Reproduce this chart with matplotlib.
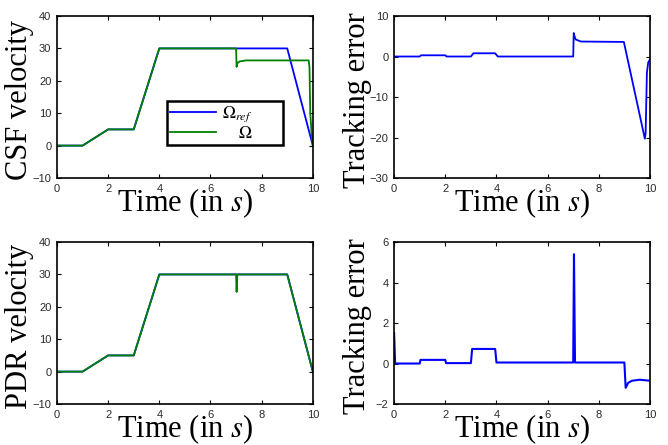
import matplotlib
matplotlib.use("Agg")
import matplotlib.pyplot as plt

plt.rcParams['mathtext.fontset'] = 'stix'
plt.rcParams['font.family'] = 'Liberation Sans'

# reference velocity (same for CSF and PDR)
t_ref = [0, 1, 2, 3, 4, 9, 10]
v_ref = [0, 0, 5, 5, 30, 30, 0]

# CSF actual velocity
t_csf = [0, 1, 2, 3, 4, 7.0, 7.02, 7.06, 7.15, 7.4, 9.84, 9.87, 9.9, 9.95, 10]
v_csf = [0, 0, 5, 5, 30, 30, 24.3, 25.6, 26.0, 26.3, 26.3, 24, 10, 4, 0]

# CSF tracking error
t_csf_err = [0, 1, 1.05, 2, 2.05, 3, 3.1, 3.95, 4.05, 7.0, 7.02, 7.05, 7.1, 7.3, 8.98,
             9.8, 9.83, 9.88, 9.93, 10]
e_csf = [0, 0, 0.3, 0.3, 0, 0, 0.8, 0.8, 0, 0, 5.8, 5.0, 4.2, 3.7, 3.6,
         -20.3, -19, -4, -1.5, -0.7]

# PDR actual velocity
t_pdr = [0, 1, 2, 3, 4, 7.0, 7.02, 7.05, 9, 10]
v_pdr = [0, 0, 5, 5, 30, 30, 24.6, 30, 30, 0]

# PDR tracking error
t_pdr_err = [0, 0.04, 1, 1.03, 2, 2.03, 3, 3.05, 3.95, 4.0, 7.0, 7.03, 7.07, 9.0,
             9.05, 9.15, 9.3, 9.6, 10]
e_pdr = [1.5, 0, 0, 0.18, 0.18, 0.02, 0.02, 0.72, 0.72, 0.05, 0.05, 5.4, 0.05, 0.05,
         -1.2, -0.95, -0.85, -0.8, -0.85]

blue = (0, 0, 1)
green = (0, 0.5, 0)

fig = plt.figure(figsize=(6.68, 4.45), dpi=100)
w, h = 0.383, 0.364
ax1 = fig.add_axes([0.0853, 0.600, w, h])
ax2 = fig.add_axes([0.590, 0.600, w, h])
ax3 = fig.add_axes([0.0853, 0.0921, w, h])
ax4 = fig.add_axes([0.590, 0.0921, w, h])

ax1.plot(t_ref, v_ref, color=blue, lw=1.3, label=r'$\Omega_{ref}$')
ax1.plot(t_csf, v_csf, color=green, lw=1.3, label=r'$\ \ \ \ \Omega$')
ax1.set_ylim(-10, 40)
ax1.set_ylabel('CSF velocity')
leg = ax1.legend(loc='lower left', bbox_to_anchor=(0.43, 0.205, 0.453, 0.27),
                 mode='expand', borderaxespad=0, fontsize=12.5, handlelength=2.6,
                 fancybox=False, framealpha=1, borderpad=0.2, labelspacing=0.05,
                 handletextpad=0.35)
leg.get_frame().set_edgecolor('black')
leg.get_frame().set_linewidth(1.8)

ax2.plot(t_csf_err, e_csf, color=blue, lw=1.3)
ax2.set_ylim(-30, 10)
ax2.set_yticks([-30, -20, -10, 0, 10])
ax2.set_ylabel('Tracking error')

ax3.plot(t_ref, v_ref, color=blue, lw=1.3)
ax3.plot(t_pdr, v_pdr, color=green, lw=1.3)
ax3.set_ylim(-10, 40)
ax3.set_ylabel('PDR velocity')

ax4.plot(t_pdr_err, e_pdr, color=blue, lw=1.5)
ax4.set_ylim(-2, 6)
ax4.set_yticks([-2, 0, 2, 4, 6])
ax4.set_ylabel('Tracking error')

for ax in [ax1, ax2, ax3, ax4]:
    ax.set_xlim(0, 10)
    ax.set_xticks([0, 2, 4, 6, 8, 10])
    ax.tick_params(direction='in', top=True, right=True, length=3, width=0.8,
                   labelsize=8, labelcolor='#2a2a2a', pad=4)
    for s in ax.spines.values():
        s.set_linewidth(1.2)
    ax.set_xlabel(r'Time (in $s$)', family='Liberation Serif', fontsize=22)
    ax.yaxis.label.set_family('Liberation Serif')
    ax.yaxis.label.set_fontsize(22)
    ax.xaxis.set_label_coords(0.5, -0.055)
    ax.yaxis.set_label_coords(-0.088, 0.48)

fig.savefig('out.png', dpi=100)
